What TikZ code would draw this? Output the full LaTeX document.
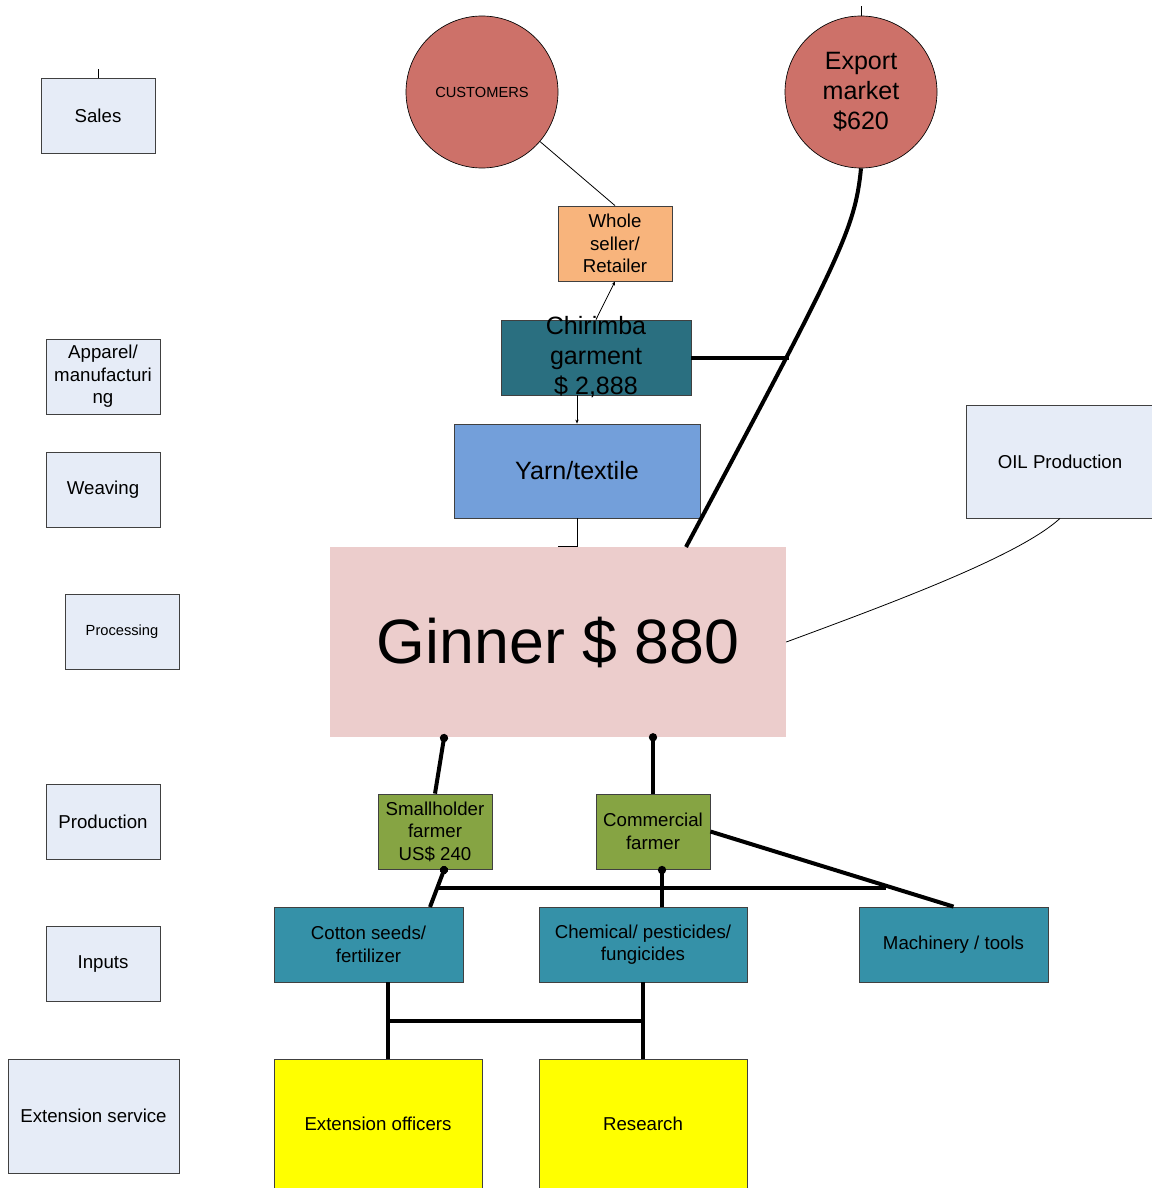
\documentclass[tikz,border=0pt]{standalone}
\usepackage{fontspec}
\setmainfont{Liberation Sans}
\usetikzlibrary{arrows.meta, calc}
\definecolor{stagefill}{RGB}{230,236,247}
\definecolor{marketred}{RGB}{205,113,105}
\definecolor{retailorange}{RGB}{248,180,124}
\definecolor{garmentteal}{RGB}{42,111,128}
\definecolor{yarnblue}{RGB}{115,159,218}
\definecolor{ginpink}{RGB}{236,205,204}
\definecolor{farmgreen}{RGB}{134,164,67}
\definecolor{inputteal}{RGB}{53,145,168}
\definecolor{extyellow}{RGB}{255,255,0}
\definecolor{edgegray}{RGB}{64,64,64}

\begin{document}
\begin{tikzpicture}[x=0.75pt, y=-0.75pt,
  chainbox/.style={rectangle, draw=edgegray, line width=0.6pt, inner sep=1pt, align=center,
    minimum width=85.5pt, minimum height=56.25pt, font=\fontsize{14}{16.9}\selectfont},
  stage/.style={chainbox, fill=stagefill},
  market/.style={circle, draw=black, line width=0.5pt, fill=marketred, inner sep=0pt,
    minimum size=114pt, align=center},
  thinline/.style={black, line width=0.6pt},
  tinyarrow/.style={thinline, -{Stealth[length=3pt, width=2.5pt]}},
  heavy/.style={black, line width=3pt},
  heavydot/.style={heavy, shorten >=-3pt, -{Circle[length=6pt, width=6pt]}}]
  \useasboundingbox (0,0) rectangle (1152,1188);

  % value chain stages (left column)
  \node[stage] (sales) at (98,115.5) {Sales};
  \node[stage] (apparel) at (103,376.5) {Apparel/\\manufacturi\\ng};
  \node[stage] (weaving) at (103,490) {Weaving};
  \node[stage, font=\fontsize{11}{13}\selectfont] (processing) at (122,632) {Processing};
  \node[stage] (production) at (103,821.5) {Production};
  \node[stage] (inputs) at (103,964) {Inputs};
  \node[stage, minimum width=128.25pt, minimum height=85.5pt] (extservice) at (93.5,1116) {Extension service};
  \coordinate (sales-tick) at (98,69);
  \draw[thinline] (sales.north) -- (sales-tick);

  % markets
  \node[market, font=\fontsize{11}{13}\selectfont] (customers) at (482,92) {CUSTOMERS};
  \node[market, font=\fontsize{18.8}{22.5}\selectfont] (export) at (861,92) {Export\\market\\\$620};
  \coordinate (export-tick) at (861,6);
  \draw[thinline] (export.north) -- (export-tick);

  % processing chain
  \node[chainbox, fill=retailorange] (whole) at (615,243.5) {Whole\\seller/\\Retailer};
  \node[chainbox, fill=garmentteal, minimum width=142.5pt, inner ysep=-6pt,
    font=\fontsize{18.8}{22.5}\selectfont] (chirimba) at (596,357.5) {Chirimba\\garment\\\$ 2,888};
  \node[chainbox, fill=yarnblue, minimum width=184.5pt, minimum height=70.5pt,
    font=\fontsize{18.8}{22.5}\selectfont] (yarn) at (577,471) {Yarn/textile};
  \node[rectangle, fill=ginpink, minimum width=342pt, minimum height=142.5pt,
    font=\fontsize{47}{56}\selectfont] (ginner) at (558,642) {Ginner \$ 880};
  \node[stage, minimum width=141pt, minimum height=84.75pt] (oil) at (1060,461.5) {OIL Production};

  % farmers
  \node[chainbox, fill=farmgreen] (small) at (435,831.5) {Smallholder\\farmer\\US\$ 240};
  \node[chainbox, fill=farmgreen] (comm) at (653,831.5) {Commercial\\farmer};

  % inputs
  \node[chainbox, fill=inputteal, minimum width=141.75pt] (cotton) at (368.5,944.5) {Cotton seeds/\\fertilizer};
  \node[chainbox, fill=inputteal, minimum width=156pt] (chem) at (643,944.5) {Chemical/ pesticides/\\fungicides};
  \node[chainbox, fill=inputteal, minimum width=141.75pt] (mach) at (953.5,944.5) {Machinery / tools};

  % extension service
  \node[chainbox, fill=extyellow, minimum width=156pt, minimum height=97.5pt] (extoff) at (378,1124) {Extension officers};
  \node[chainbox, fill=extyellow, minimum width=156pt, minimum height=97.5pt] (research) at (643,1124) {Research};

  % thin links
  \draw[thinline] (customers) -- (whole.north);
  \draw[tinyarrow] (chirimba.north) -- (whole.south);
  \draw[tinyarrow] (chirimba.south -| yarn.north) -- (yarn.north);
  \draw[thinline] (yarn.south) |- (ginner.north);
  \draw[thinline] (oil.south) .. controls (1020,555) and (900,600) .. (ginner.east);

  % export route
  \coordinate (gin-export) at (686,547);
  \coordinate (export-join) at (789,357.5);
  \draw[heavy] (export.south) .. controls (855,230) and (839,260) .. (gin-export);
  \draw[heavy] (chirimba.east) -- (export-join);

  % farmers to ginner
  \coordinate (gin-small) at (444,738);
  \draw[heavydot] (small.north) -- (gin-small);
  \draw[heavydot] (comm.north) -- (comm.north |- ginner.south);

  % inputs to farmers
  \coordinate (cot-up) at (430,907);
  \coordinate (small-down) at (444,870);
  \coordinate (chem-up) at (662,907);
  \coordinate (comm-down) at (662,870);
  \coordinate (bar-left) at (437,888);
  \coordinate (bar-right) at (886,888);
  \draw[heavydot] (cot-up) -- (small-down);
  \draw[heavydot] (chem-up) -- (comm-down);
  \draw[heavy] (bar-left) -- (bar-right);
  \draw[heavy] (comm.east) -- (mach.north);

  % extension to inputs
  \coordinate (cot-down) at (388,982);
  \coordinate (ext-up) at (388,1059);
  \coordinate (ext-bar-left) at (388,1021);
  \coordinate (ext-bar-right) at (643,1021);
  \draw[heavy] (cot-down) -- (ext-up);
  \draw[heavy] (chem.south) -- (research.north);
  \draw[heavy] (ext-bar-left) -- (ext-bar-right);
\end{tikzpicture}
\end{document}
